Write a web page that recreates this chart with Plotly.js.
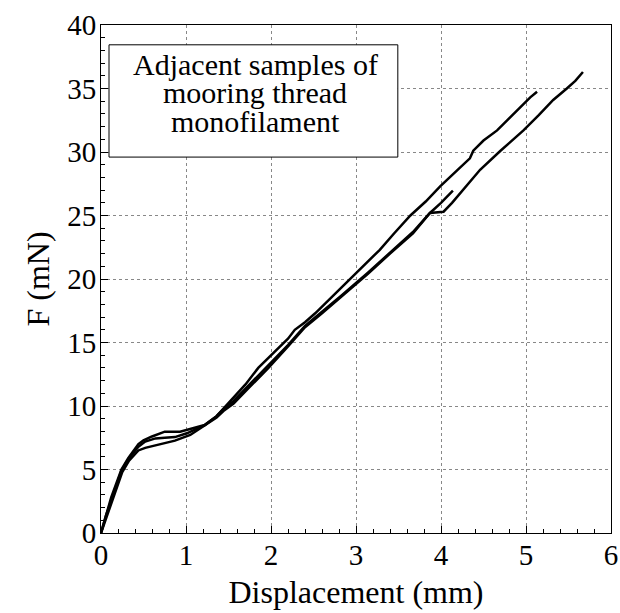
<!DOCTYPE html>
<html>
<head>
<meta charset="utf-8">
<script src="https://cdn.plot.ly/plotly-3.0.1.min.js"></script>
<style>
  html, body { margin: 0; padding: 0; background: #fff; }
  #chart { width: 620px; height: 613px; }
</style>
</head>
<body>
<div id="chart"></div>
<script>
// Sample A (ends near 5.13 mm)
const sampleA_x = [0, 0.06, 0.13, 0.24, 0.32, 0.44, 0.52, 0.64, 0.75, 0.87, 1.01, 1.1, 1.22, 1.36, 1.44, 1.56, 1.7, 1.85, 2.0, 2.2, 2.28, 2.4, 2.52, 2.75, 2.99, 3.07, 3.28, 3.45, 3.64, 3.82, 3.99, 4.18, 4.34, 4.38, 4.5, 4.66, 4.82, 4.97, 5.05, 5.13];
const sampleA_y = [0, 1.4, 2.7, 4.9, 5.8, 6.8, 7.2, 7.45, 7.5, 7.55, 7.85, 8.15, 8.5, 9.2, 9.8, 10.7, 11.7, 13.0, 14.0, 15.3, 16.0, 16.6, 17.3, 18.8, 20.4, 20.9, 22.3, 23.6, 25.0, 26.1, 27.3, 28.5, 29.5, 30.1, 30.9, 31.7, 32.8, 33.8, 34.3, 34.75];

// Sample B (ends near 5.67 mm)
const sampleB_x = [0, 0.07, 0.14, 0.25, 0.33, 0.44, 0.52, 0.58, 0.71, 0.87, 1.05, 1.22, 1.36, 1.44, 1.56, 1.75, 1.97, 2.2, 2.4, 2.6, 2.83, 3.14, 3.4, 3.67, 3.87, 4.03, 4.13, 4.3, 4.46, 4.7, 4.97, 5.15, 5.32, 5.48, 5.58, 5.67];
const sampleB_y = [0, 1.3, 2.6, 4.8, 5.7, 6.5, 6.7, 6.8, 7.0, 7.27, 7.72, 8.5, 9.1, 9.6, 10.2, 11.5, 13.0, 14.7, 16.2, 17.3, 18.6, 20.4, 22.0, 23.6, 25.2, 25.3, 26.0, 27.3, 28.6, 30.1, 31.7, 32.9, 34.1, 35.0, 35.6, 36.3];

// Sample C (ends near 4.14 mm)
const sampleC_x = [0, 0.06, 0.12, 0.24, 0.32, 0.44, 0.5, 0.6, 0.75, 0.93, 1.09, 1.22, 1.36, 1.44, 1.56, 1.75, 1.97, 2.2, 2.4, 2.6, 2.83, 3.14, 3.4, 3.67, 3.87, 4.0, 4.14];
const sampleC_y = [0, 1.5, 2.8, 5.0, 5.9, 7.0, 7.3, 7.6, 7.98, 7.98, 8.24, 8.5, 9.2, 9.75, 10.4, 11.7, 13.2, 14.8, 16.3, 17.4, 18.7, 20.5, 22.1, 23.7, 25.2, 26.0, 26.95];

const xTickVals = [0, 1, 2, 3, 4, 5, 6];
const yTickVals = [0, 5, 10, 15, 20, 25, 30, 35, 40];
const boxLines = ["Adjacent samples of", "mooring thread", "monofilament"];
const xTitle = "Displacement (mm)";
const yTitle = "F (mN)";

const serif = "Liberation Serif, Times New Roman, serif";
const lineStyle = {color: "#000", width: 2.5};

const traces = [
  {x: sampleA_x, y: sampleA_y, mode: "lines", line: lineStyle, hoverinfo: "skip"},
  {x: sampleB_x, y: sampleB_y, mode: "lines", line: lineStyle, hoverinfo: "skip"},
  {x: sampleC_x, y: sampleC_y, mode: "lines", line: lineStyle, hoverinfo: "skip"}
];

const axisCommon = {
  showline: true, linecolor: "#000", linewidth: 1, mirror: true,
  ticks: "inside", ticklen: 7, tickcolor: "#000", tickwidth: 1,
  showgrid: true, gridcolor: "#888", griddash: "dot", gridwidth: 1,
  zeroline: false,
  tickfont: {family: serif, size: 29, color: "#000"}
};

const lineY = [0.923, 0.867, 0.810];

const layout = {
  width: 620, height: 613,
  margin: {l: 101, r: 9, t: 25, b: 80},
  paper_bgcolor: "#fff", plot_bgcolor: "#fff",
  showlegend: false,
  font: {family: serif, color: "#000"},
  xaxis: Object.assign({}, axisCommon, {
    range: [0, 6], tickvals: xTickVals, ticktext: xTickVals.map(String),
    ticklabelstandoff: -4,
    minor: {dtick: 0.2, tick0: 0, ticks: "inside", ticklen: 4, tickcolor: "#000", showgrid: false},
    title: {text: xTitle, font: {family: serif, size: 32, color: "#000"}, standoff: 10}
  }),
  yaxis: Object.assign({}, axisCommon, {
    range: [0, 40], tickvals: yTickVals, ticktext: yTickVals.map(String),
    ticklabelstandoff: -2,
    minor: {dtick: 1, tick0: 0, ticks: "inside", ticklen: 4, tickcolor: "#000", showgrid: false},
    title: {text: yTitle, font: {family: serif, size: 32, color: "#000"}, standoff: 8}
  }),
  shapes: [{
    type: "rect", xref: "paper", yref: "paper", layer: "above",
    x0: 0.0157, x1: 0.582, y0: 0.740, y1: 0.961,
    fillcolor: "#fff", line: {color: "#000", width: 1}
  }],
  annotations: boxLines.map((t, i) => ({
    xref: "paper", yref: "paper", x: 0.302, y: lineY[i],
    xanchor: "center", yanchor: "middle", showarrow: false, align: "center",
    text: t, font: {family: serif, size: 30, color: "#000"}
  }))
};

Plotly.newPlot("chart", traces, layout, {staticPlot: true, displayModeBar: false});
</script>
</body>
</html>
